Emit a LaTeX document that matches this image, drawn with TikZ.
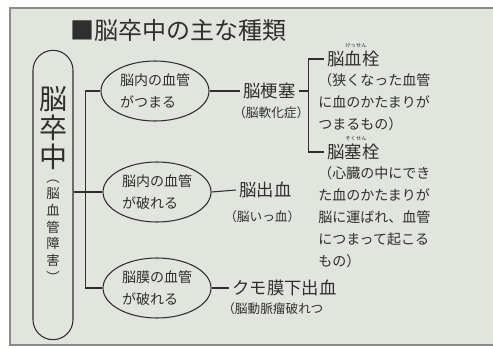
\documentclass[tikz,border=0pt]{standalone}
\usepackage{fontspec}
\setmainfont{Noto Sans CJK JP}
\usetikzlibrary{shapes.geometric}
\definecolor{bg}{HTML}{E1E5DE}
\definecolor{ink}{HTML}{2F2F2F}
\definecolor{frame}{HTML}{8A8C88}

\tikzset{
  line/.style={draw=ink, line width=0.8pt},
  oval/.style={ellipse, draw=ink, line width=0.8pt, minimum width=81pt,
    minimum height=45pt, inner sep=0pt, align=left,
    font=\fontsize{10.5}{16}\selectfont},
  head/.style={inner sep=0pt, outer sep=2.5pt, font=\fontsize{13}{15}\selectfont},
  sub/.style={inner sep=0pt, font=\fontsize{9.5}{11}\selectfont},
  desc/.style={inner sep=0pt, align=left, font=\fontsize{10.5}{16.5}\selectfont},
  ruby/.style={inner sep=0pt, font=\fontsize{4}{4}\selectfont}
}

\begin{document}
\begin{tikzpicture}[x=0.75pt, y=-0.75pt, text=ink]

    % 背景と枠
    \useasboundingbox (0, 0) rectangle (493, 347);
    \fill[bg] (10, 8) rectangle (493, 345);
    \draw[frame, line width=1pt] (493, 8) -- (10, 8) -- (10, 345) -- (493, 345);

    % 見出し
    \node[inner sep=0pt, anchor=west, font=\fontsize{18}{20}\selectfont] (title) at (70, 30) {■脳卒中の主な種類};

    % 左の縦長の枠
    \node[draw=ink, line width=0.8pt, rounded corners=15pt, minimum width=30pt,
      minimum height=217pt, inner sep=0pt] (pill) at (53, 195) {};
    \node[inner sep=0pt, align=center, font=\fontsize{21}{21.5}\selectfont] (big) at (53, 128) {脳\\卒\\中};
    \node[inner sep=0pt, align=center, font=\fontsize{10}{12.5}\selectfont] (small) at (53, 231) {︵\\脳\\血\\管\\障\\害\\︶};

    % 三つの楕円
    \node[oval] (e1) at (155, 91) {脳内の血管\\がつまる};
    \node[oval] (e2) at (157, 192) {脳内の血管\\が破れる};
    \node[oval] (e3) at (157, 288) {脳膜の血管\\が破れる};

    % 病名
    \node[head, anchor=west] (h1) at (240, 91) {脳梗塞};
    \node[sub, anchor=west] (s1) at (233, 113) {（脳軟化症）};
    \node[head, anchor=west] (h2) at (236, 190) {脳出血};
    \node[sub, anchor=west] (s2) at (224, 217) {（脳いっ血）};
    \node[head, anchor=west] (h3) at (229, 288) {クモ膜下出血};
    \node[sub, anchor=west] (s3) at (222, 309) {（脳動脈瘤破れつ};

    % 脳梗塞の二つの型
    \node[head, anchor=west] (t1) at (324, 59) {脳血栓};
    \node[ruby] (r1) at (356, 46) {けっせん};
    \node[desc, anchor=north west] (d1) at (318, 73) {（狭くなった血管\\に血のかたまりが\\つまるもの）};
    \node[head, anchor=west] (t2) at (324, 152) {脳塞栓};
    \node[ruby] (r2) at (356, 139) {そくせん};
    \node[desc, anchor=north west] (d2) at (318, 166) {（心臓の中にでき\\た血のかたまりが\\脳に運ばれ、血管\\につまって起こる\\もの）};

    % 線
    \draw[line] (pill.east |- e2.west) -- (e2.west);
    \draw[line] (e1.west) -- ++(-15, 0) |- (e3.west);
    \draw[line] (e1.east) -- (h1.west);
    \draw[line] (e2.east) -- (h2.west);
    \draw[line] (e3.east) -- (h3.west);
    \draw[line] (h1.east) -- ++(10, 0) coordinate (fork);
    \draw[line] (t1.west) -- (fork |- t1.west) -- (fork |- t2.west) -- (t2.west);

\end{tikzpicture}
\end{document}
